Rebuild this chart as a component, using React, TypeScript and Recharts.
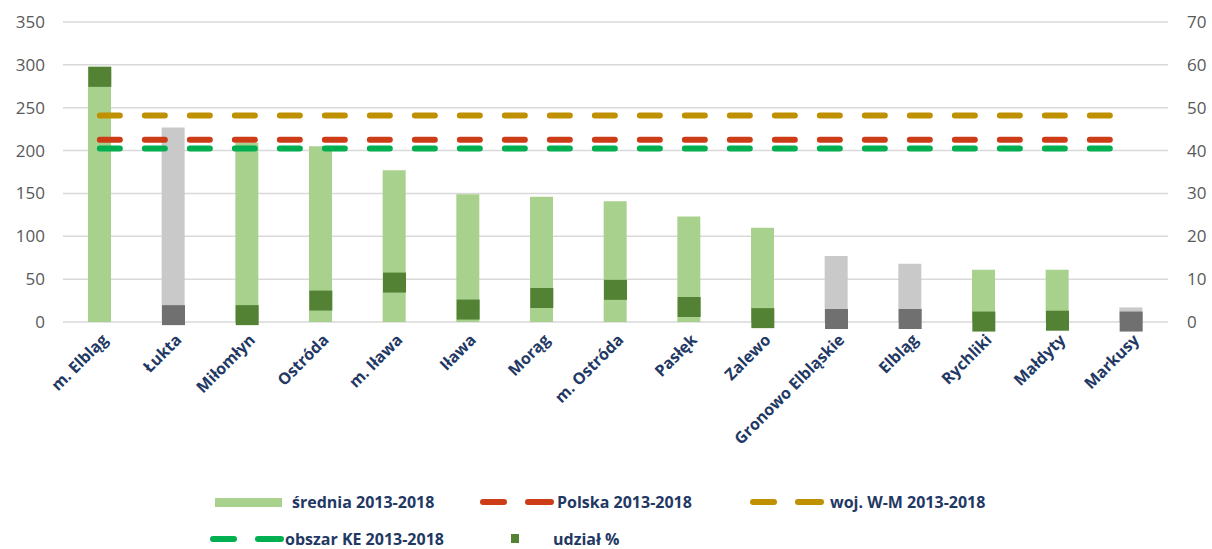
import React from "react";
import {
  ComposedChart,
  Bar,
  Line,
  Scatter,
  Cell,
  XAxis,
  YAxis,
  CartesianGrid,
} from "recharts";

// Gminy, sorted by 2013-2018 average
const CATEGORIES = [
  "m. Elbląg",
  "Łukta",
  "Miłomłyn",
  "Ostróda",
  "m. Iława",
  "Iława",
  "Morąg",
  "m. Ostróda",
  "Pasłęk",
  "Zalewo",
  "Gronowo Elbląskie",
  "Elbląg",
  "Rychliki",
  "Małdyty",
  "Markusy",
];

const SREDNIA = [298, 227, 209, 205, 177, 149, 146, 141, 123, 110, 77, 68, 61, 61, 17];
const UDZIAL = [57.2, 1.6, 1.6, 5.0, 9.2, 2.9, 5.6, 7.5, 3.5, 0.9, 0.7, 0.7, 0.1, 0.3, 0.1];
// gminy drawn in grey
const GREY = [false, true, false, false, false, false, false, false, false, false, true, true, false, false, true];

const POLSKA = 212.5;
const WOJ_WM = 241;
const OBSZAR_KE = 202.3;

const LEFT_TICKS = [0, 50, 100, 150, 200, 250, 300, 350];
const RIGHT_TICKS = [0, 10, 20, 30, 40, 50, 60, 70];

const COLORS = {
  bar: "#a9d18e",
  barGrey: "#c9c9c9",
  marker: "#548235",
  markerGrey: "#707070",
  polska: "#cc3d17",
  woj: "#bf9000",
  ke: "#00b050",
  grid: "#d9d9d9",
  axis: "#595959",
  label: "#1f3864",
};

const FONT = "'Open Sans', Lato, sans-serif";

const data = CATEGORIES.map((name, i) => ({
  name,
  srednia: SREDNIA[i],
  udzial: UDZIAL[i],
  grey: GREY[i],
  polska: POLSKA,
  woj: WOJ_WM,
  ke: OBSZAR_KE,
}));

// category labels, slanted 45° like the Excel original
const renderCategoryTick = (props: any) => {
  const { x, y, payload } = props;
  return (
    <g transform={`translate(${x + 5},${y + 7}) rotate(-45)`}>
      <text
        x={0}
        y={0}
        dy="0.35em"
        textAnchor="end"
        fill={COLORS.label}
        fontFamily={FONT}
        fontWeight={700}
        fontSize={16}
      >
        {payload.value}
      </text>
    </g>
  );
};

const renderMarker = (props: any) => {
  const { cx, cy, payload } = props;
  return (
    <rect
      x={cx - 11.5}
      y={cy - 10}
      width={23}
      height={20}
      fill={payload.grey ? COLORS.markerGrey : COLORS.marker}
    />
  );
};

const DashSample = ({ color }: { color: string }) => (
  <svg width={74} height={12} style={{ display: "block" }}>
    <line x1={3} y1={6} x2={24} y2={6} stroke={color} strokeWidth={6} strokeLinecap="round" />
    <line x1={48} y1={6} x2={71} y2={6} stroke={color} strokeWidth={6} strokeLinecap="round" />
  </svg>
);

const legendText: React.CSSProperties = {
  position: "absolute",
  fontFamily: FONT,
  fontWeight: 700,
  fontSize: 16,
  color: COLORS.label,
  lineHeight: "18px",
  whiteSpace: "nowrap",
};

function ChartLegend() {
  return (
    <>
      {/* row 1 */}
      <div style={{ position: "absolute", left: 215, top: 498, width: 67, height: 9, background: COLORS.bar }} />
      <div style={{ ...legendText, left: 292, top: 493 }}>średnia 2013-2018</div>
      <div style={{ position: "absolute", left: 480, top: 496 }}>
        <DashSample color={COLORS.polska} />
      </div>
      <div style={{ ...legendText, left: 557, top: 493 }}>Polska 2013-2018</div>
      <div style={{ position: "absolute", left: 750, top: 496 }}>
        <DashSample color={COLORS.woj} />
      </div>
      <div style={{ ...legendText, left: 830, top: 493 }}>woj. W-M 2013-2018</div>

      {/* row 2 */}
      <div style={{ position: "absolute", left: 210, top: 533 }}>
        <DashSample color={COLORS.ke} />
      </div>
      <div style={{ ...legendText, left: 285, top: 530 }}>obszar KE 2013-2018</div>
      <div style={{ position: "absolute", left: 511, top: 534, width: 8, height: 9, background: COLORS.marker }} />
      <div style={{ ...legendText, left: 553, top: 530 }}>udział %</div>
    </>
  );
}

export default function App() {
  return (
    <div style={{ position: "absolute", left: 0, top: 0, width: 1212, height: 549, background: "#fff", overflow: "hidden" }}>
      <ComposedChart
        width={1212}
        height={549}
        data={data}
        margin={{ top: 22, right: 0, bottom: 0, left: 0 }}
        barSize={23}
      >
        <CartesianGrid vertical={false} stroke={COLORS.grid} strokeWidth={1.5} yAxisId="left" />
        <XAxis
          dataKey="name"
          axisLine={false}
          tickLine={false}
          interval={0}
          height={227}
          tick={renderCategoryTick}
        />
        <YAxis
          yAxisId="left"
          domain={[0, 350]}
          ticks={LEFT_TICKS}
          width={63}
          axisLine={false}
          tickLine={false}
          tickMargin={12}
          tick={{ fill: COLORS.axis, fontSize: 17, fontFamily: FONT }}
        />
        <YAxis
          yAxisId="right"
          orientation="right"
          domain={[0, 70]}
          ticks={RIGHT_TICKS}
          width={44}
          axisLine={false}
          tickLine={false}
          tickMargin={13}
          tick={{ fill: COLORS.axis, fontSize: 17, fontFamily: FONT }}
        />

        <Bar yAxisId="left" dataKey="srednia" name="średnia 2013-2018" isAnimationActive={false}>
          {data.map((d, i) => (
            <Cell key={i} fill={d.grey ? COLORS.barGrey : COLORS.bar} />
          ))}
        </Bar>

        <Line
          yAxisId="left"
          dataKey="woj"
          name="woj. W-M 2013-2018"
          stroke={COLORS.woj}
          strokeWidth={6}
          strokeDasharray="20 25"
          strokeLinecap="round"
          dot={false}
          activeDot={false}
          isAnimationActive={false}
        />
        <Line
          yAxisId="left"
          dataKey="polska"
          name="Polska 2013-2018"
          stroke={COLORS.polska}
          strokeWidth={6}
          strokeDasharray="20 25"
          strokeLinecap="round"
          dot={false}
          activeDot={false}
          isAnimationActive={false}
        />
        <Line
          yAxisId="left"
          dataKey="ke"
          name="obszar KE 2013-2018"
          stroke={COLORS.ke}
          strokeWidth={6}
          strokeDasharray="20 25"
          strokeLinecap="round"
          dot={false}
          activeDot={false}
          isAnimationActive={false}
        />

        <Scatter
          yAxisId="right"
          dataKey="udzial"
          name="udział %"
          shape={renderMarker}
          isAnimationActive={false}
        />
      </ComposedChart>
      <ChartLegend />
    </div>
  );
}
